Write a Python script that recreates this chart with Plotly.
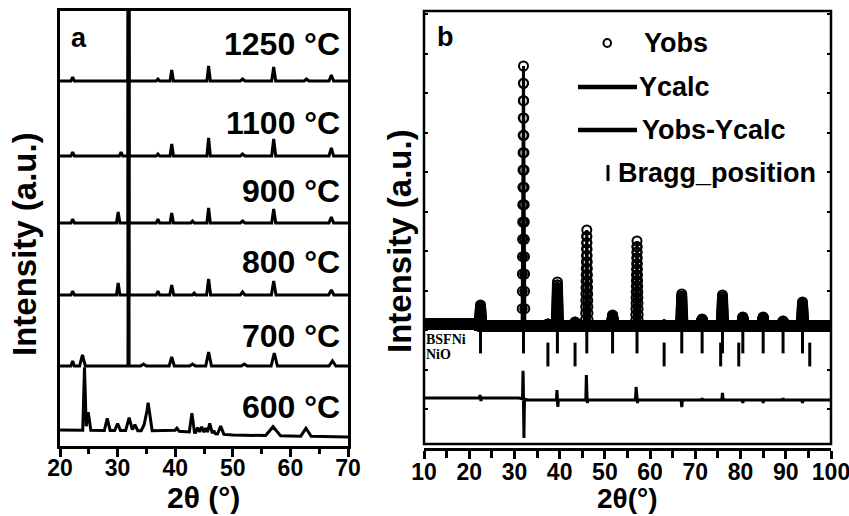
import numpy as np
import plotly.graph_objects as go

W, H = 849, 516

# ---------------- Panel a data (2theta in deg, intensity in arbitrary units) ----------------
TEMP_LABELS = ["600 °C", "700 °C", "800 °C", "900 °C", "1100 °C", "1250 °C"]
# baseline knots of each stacked pattern (x, y)
BASE_X = [20, 40, 50, 70]
BASE_600 = [16, 15, 11, 9]
BASE_700 = [80, 80, 80, 80]
BASE_800 = [151, 151, 151, 151]
BASE_900 = [223, 223, 223, 223]
BASE_1100 = [290, 290, 290, 290]
BASE_1250 = [365, 365, 365, 365]

# peaks: (position, height above baseline, half base width)
PEAKS_600 = [(24.25, 63, 0.3), (24.9, 18, 0.45), (28.2, 12, 0.5), (30.0, 7, 0.5),
             (32.0, 13, 0.6), (33.0, 6, 0.5), (35.3, 28, 0.7), (34.6, 6, 0.5),
             (40.3, 3, 0.4), (42.9, 19, 0.45), (43.9, 5, 0.35), (44.6, 6, 0.4),
             (45.3, 5, 0.35), (46.0, 10, 0.45), (46.7, 3, 0.3), (47.9, 8, 0.55),
             (57.0, 9, 1.3), (62.7, 8, 0.9)]
PEAKS_700 = [(22.2, 5, 0.3), (23.9, 11, 0.5), (31.9, 400, 0.1), (34.5, 2, 0.5),
             (39.4, 9, 0.45), (43.0, 2, 0.5), (45.8, 14, 0.5), (52.0, 2, 0.5),
             (57.2, 13, 0.55), (67.3, 5, 0.6)]
PEAKS_800 = [(22.2, 4, 0.3), (30.1, 12, 0.3), (31.9, 400, 0.08), (37.0, 4, 0.3),
             (39.4, 10, 0.35), (43.3, 2, 0.3), (45.8, 16, 0.35), (51.7, 3, 0.4),
             (57.1, 14, 0.4), (67.1, 5, 0.45)]
PEAKS_900 = [(22.2, 4, 0.3), (30.1, 11, 0.3), (31.9, 400, 0.08), (37.0, 4, 0.3),
             (39.4, 10, 0.3), (43.0, 2, 0.3), (45.8, 15, 0.3), (51.7, 2, 0.4),
             (57.1, 14, 0.35), (67.1, 6, 0.4)]
PEAKS_1100 = [(22.2, 4, 0.3), (30.6, 4, 0.3), (31.9, 400, 0.08), (37.0, 2, 0.3),
              (39.4, 12, 0.3), (45.8, 18, 0.3), (51.7, 2, 0.4), (57.1, 17, 0.35),
              (67.1, 8, 0.4)]
PEAKS_1250 = [(22.2, 4, 0.3), (31.9, 400, 0.08), (37.0, 2, 0.3), (39.4, 11, 0.3),
              (45.8, 15, 0.3), (51.7, 2, 0.4), (57.1, 14, 0.35), (62.8, 2, 0.4),
              (67.1, 6, 0.4)]

PATTERNS_A = [(BASE_600, PEAKS_600), (BASE_700, PEAKS_700), (BASE_800, PEAKS_800),
              (BASE_900, PEAKS_900), (BASE_1100, PEAKS_1100), (BASE_1250, PEAKS_1250)]
LABEL_Y_PX = [407, 336, 262, 191, 123, 44]

# ---------------- Panel b data ----------------
BSFNI_POS = [22.5, 32.0, 39.5, 46.0, 51.7, 57.1, 67.0, 71.5, 76.0, 80.5, 85.0, 89.4, 93.7]
BSFNI_H = [21, 260, 44, 96, 11, 85, 32, 7, 31, 9, 9, 5, 24]
NIO_POS = [37.4, 43.4, 63.1, 75.6, 79.6, 95.3]
NIO_H = [2, 4, 1, 0, 0, 0]
OBS_BASE_X = [10, 21, 22.2, 100]
OBS_BASE_Y = [2, 2, 0, 0]
PEAK_HALF_WIDTH_B = 0.3
SCAN_STEP = 0.02

DIFF_BASE_X = [10, 31, 33, 100]
DIFF_BASE_Y = [-72, -72, -74, -74]
DIFF_PEAKS = [(22.4, 3, 0.1), (22.6, -3, 0.1), (31.9, 28, 0.12), (32.1, -39, 0.12),
              (39.4, 10, 0.12), (39.6, -7, 0.12), (45.9, 25, 0.12), (46.1, -3, 0.1),
              (56.9, 13, 0.15), (57.2, -3, 0.1), (67.0, -7, 0.15), (71.5, 2, 0.1),
              (76.0, 7, 0.15), (80.5, -3, 0.1), (85.0, -3, 0.1), (89.4, 2, 0.1),
              (93.7, -3, 0.15)]
BRAGG_Y_BSFNI = -15.5
BRAGG_Y_NIO = -28.5


def build_profile(base_x, base_y, peaks, extra=(), lo=None, hi=None):
    lo = base_x[0] if lo is None else lo
    hi = base_x[-1] if hi is None else hi
    knots = set(base_x) | set(extra)
    for p, h, w in peaks:
        knots |= {p - w, p, p + w}
    xs = np.array(sorted(k for k in knots if lo <= k <= hi))
    ys = np.interp(xs, base_x, base_y).astype(float)
    for p, h, w in peaks:
        ys += h * np.clip(1 - np.abs(xs - p) / w, 0, None)
    return xs, ys


fig = go.Figure()

# Panel a traces
for base, peaks in PATTERNS_A:
    xs, ys = build_profile(BASE_X, base, peaks)
    fig.add_trace(go.Scatter(x=xs, y=ys, mode="lines", line=dict(color="black", width=3),
                             xaxis="x", yaxis="y", showlegend=False, hoverinfo="skip"))

# Panel b traces
b_peaks = [(p, h, PEAK_HALF_WIDTH_B) for p, h in zip(BSFNI_POS + NIO_POS, BSFNI_H + NIO_H) if h > 0]
grid = np.round(np.arange(10, 100 + 1e-9, SCAN_STEP), 4)
xo, yo = build_profile(OBS_BASE_X, OBS_BASE_Y, b_peaks, extra=grid)
fig.add_trace(go.Scatter(x=xo, y=yo, mode="markers",
                         marker=dict(symbol="circle-open", size=9, color="black",
                                     line=dict(color="black", width=2)),
                         xaxis="x2", yaxis="y2", showlegend=False, hoverinfo="skip"))
xc, yc = build_profile(OBS_BASE_X, OBS_BASE_Y, b_peaks)
fig.add_trace(go.Scatter(x=xc, y=yc, mode="lines", line=dict(color="black", width=3),
                         xaxis="x2", yaxis="y2", showlegend=False, hoverinfo="skip"))
xd, yd = build_profile(DIFF_BASE_X, DIFF_BASE_Y, DIFF_PEAKS)
fig.add_trace(go.Scatter(x=xd, y=yd, mode="lines", line=dict(color="black", width=3),
                         xaxis="x2", yaxis="y2", showlegend=False, hoverinfo="skip"))
fig.add_trace(go.Scatter(x=BSFNI_POS, y=[BRAGG_Y_BSFNI] * len(BSFNI_POS), mode="markers",
                         marker=dict(symbol="line-ns", size=17, line=dict(color="black", width=3)),
                         xaxis="x2", yaxis="y2", showlegend=False, hoverinfo="skip"))
fig.add_trace(go.Scatter(x=NIO_POS, y=[BRAGG_Y_NIO] * len(NIO_POS), mode="markers",
                         marker=dict(symbol="line-ns", size=17, line=dict(color="black", width=3)),
                         xaxis="x2", yaxis="y2", showlegend=False, hoverinfo="skip"))


def px(x):
    return x / W


def py(y):
    return 1 - y / H


FONT = "Liberation Sans"
tickfont = dict(family=FONT, size=23, color="black", weight="bold")

fig.update_layout(
    width=W, height=H, margin=dict(l=0, r=0, t=0, b=0, autoexpand=False),
    paper_bgcolor="white", plot_bgcolor="white", showlegend=False,
    xaxis=dict(domain=[px(60), px(348)], range=[20, 70], dtick=10, tick0=20,
               ticks="outside", ticklen=8, tickwidth=2.5, tickcolor="black",
               minor=dict(dtick=5, ticks="outside", ticklen=5, tickwidth=2.5, tickcolor="black"),
               showline=True, linewidth=2.5, linecolor="black", mirror=True,
               showgrid=False, zeroline=False, tickfont=tickfont, anchor="y",
               automargin=False, ticklabelstandoff=-8, ticklabeloverflow="allow"),
    yaxis=dict(domain=[py(446), py(11)], range=[0, 435], showticklabels=False, ticks="",
               showline=True, linewidth=2.5, linecolor="black", mirror=True,
               showgrid=False, zeroline=False, anchor="x", automargin=False),
    xaxis2=dict(domain=[px(424), px(831)], range=[10, 100], dtick=10, tick0=10,
                ticks="outside", ticklen=8, tickwidth=2.5, tickcolor="black",
                minor=dict(dtick=5, ticks="outside", ticklen=7, tickwidth=2.5, tickcolor="black"),
                showline=True, linewidth=2.5, linecolor="black",
                showgrid=False, zeroline=False, tickfont=tickfont,
                anchor="free", position=py(449), automargin=False,
                ticklabelstandoff=-6, ticklabeloverflow="allow"),
    yaxis2=dict(domain=[py(444), py(11)], range=[-118, 315], showticklabels=False,
                ticks="inside", ticklen=4, tickwidth=1.5, tickcolor="black",
                tick0=-4, dtick=39.5, mirror="ticks", showline=False,
                showgrid=False, zeroline=False, anchor="x2", automargin=False),
)

shapes = [
    dict(type="rect", xref="x2 domain", yref="y2 domain", x0=0, x1=1, y0=0, y1=1,
         line=dict(color="black", width=2.5), fillcolor="rgba(0,0,0,0)"),
    # legend symbols
    dict(type="circle", xref="paper", yref="paper", x0=px(603.5), x1=px(611), y0=py(47), y1=py(39),
         line=dict(color="black", width=2)),
    dict(type="line", xref="paper", yref="paper", x0=px(578), x1=px(637), y0=py(87), y1=py(87),
         line=dict(color="black", width=4.5)),
    dict(type="line", xref="paper", yref="paper", x0=px(578), x1=px(637), y0=py(130), y1=py(130),
         line=dict(color="black", width=4.5)),
    dict(type="line", xref="paper", yref="paper", x0=px(608), x1=px(608), y0=py(165), y1=py(181),
         line=dict(color="black", width=3)),
]
fig.update_layout(shapes=shapes)

ann = []


def add_text(text, x, y, size, xanchor="center", family=FONT, weight="bold", angle=0):
    ann.append(dict(text=text, x=px(x), y=py(y), xref="paper", yref="paper",
                    xanchor=xanchor, yanchor="middle", showarrow=False, textangle=angle,
                    font=dict(family=family, size=size, color="black", weight=weight)))


for lab, ly in zip(TEMP_LABELS, LABEL_Y_PX):
    add_text(lab, 342, ly, 32, xanchor="right")
add_text("a", 69, 38, 27, xanchor="left")
add_text("b", 435, 37, 27, xanchor="left")
add_text("Intensity (a.u.)", 25, 244, 33, angle=-90)
add_text("Intensity (a.u.)", 400, 241, 33, angle=-90)
add_text("2θ (°)", 203, 497, 30)
add_text("2θ(°)", 627, 498, 28)
add_text("Yobs", 642, 43, 27, xanchor="left")
add_text("Ycalc", 637, 87, 27, xanchor="left")
add_text("Yobs-Ycalc", 640, 130, 27, xanchor="left")
add_text("Bragg_position", 616, 173, 27, xanchor="left")
add_text("BSFNi", 424, 339.5, 14, xanchor="left", family="Liberation Serif")
add_text("NiO", 424, 354.5, 14, xanchor="left", family="Liberation Serif")
fig.update_layout(annotations=ann)

fig.write_html("out.html", config={"displayModeBar": False},
               post_script="document.body.style.margin='0';")
